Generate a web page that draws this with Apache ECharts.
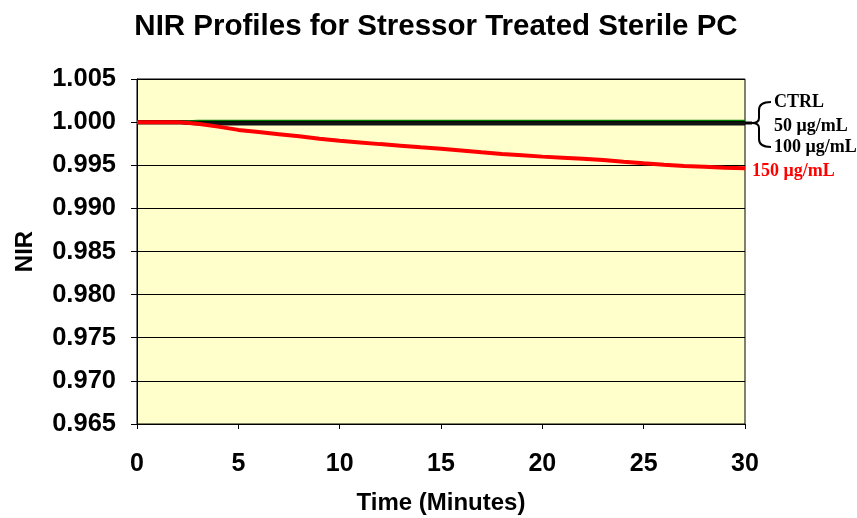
<!DOCTYPE html>
<html>
<head>
<meta charset="utf-8">
<script src="https://cdn.jsdelivr.net/npm/echarts@6/dist/echarts.min.js"></script>
<style>html,body{margin:0;padding:0;background:#fff;}#c{width:857px;height:518px;}</style>
</head>
<body>
<div id="c"></div>
<script>
var timeMin = [0,1,2,3,4,5,6,7,8,9,10,11,12,13,14,15,16,17,18,19,20,21,22,23,24,25,26,27,28,29,30];
var ctrl    = [1.0000,1.0000,1.0000,1.0001,1.0001,1.0001,1.0001,1.0001,1.0001,1.0001,1.0001,1.0001,1.0001,1.0001,1.0001,1.0001,1.0001,1.0001,1.0001,1.0001,1.0001,1.0001,1.0001,1.0001,1.0001,1.0001,1.0001,1.0001,1.0001,1.0001,1.0001];
var ug50    = [1.0000,1.0000,1.0000,0.9999,0.9999,0.9999,0.9999,0.9999,0.9999,0.9999,0.9999,0.9999,0.9999,0.9999,0.9999,0.9999,0.9999,0.9999,0.9999,0.9999,0.9999,0.9999,0.9999,0.9999,0.9999,0.9999,0.9999,0.9999,0.9999,0.9999,0.9999];
var ug100   = [1.0000,1.0000,1.0000,0.99985,0.99985,0.99985,0.99985,0.99985,0.99985,0.99985,0.99985,0.99985,0.99985,0.99985,0.99985,0.99985,0.99985,0.99985,0.99985,0.99985,0.99985,0.99985,0.99985,0.99985,0.99985,0.99985,0.99985,0.99985,0.99985,0.99985,0.99985];
var ug150   = [1.0000,1.0000,1.0000,0.99980,0.99948,0.99910,0.99885,0.99860,0.99835,0.99808,0.99785,0.99765,0.99745,0.99727,0.99708,0.99692,0.99672,0.99650,0.99630,0.99615,0.99600,0.99588,0.99575,0.99562,0.99540,0.99522,0.99505,0.99492,0.99482,0.99472,0.99465];
var xTicks = [0,5,10,15,20,25,30];
var yTicks = [0.965,0.970,0.975,0.980,0.985,0.990,0.995,1.000,1.005];
var seriesNames = ['CTRL','50 μg/mL','100 μg/mL','150 μg/mL'];

function pairs(v){ return timeMin.map(function(t,i){ return [t, v[i]]; }); }

var chart = echarts.init(document.getElementById('c'));
var sans = 'Liberation Sans';
var lblFont = 'bold 18px "Liberation Serif"';
var br = {stroke: '#000', lineWidth: 2, fill: null};
chart.setOption({
  animation: false,
  backgroundColor: '#ffffff',
  title: {
    text: 'NIR Profiles for Stressor Treated Sterile PC',
    left: 431, top: 7, textAlign: 'center',
    textStyle: {fontFamily: sans, fontWeight: 'bold', fontSize: 29.5, color: '#000'}
  },
  grid: {left: 137, right: 112, top: 79, bottom: 94, containLabel: false, outerBoundsMode: 'none',
    show: true, backgroundColor: '#FFFFCC', borderColor: '#000', borderWidth: 1},
  xAxis: {
    type: 'value', min: xTicks[0], max: xTicks[xTicks.length-1], interval: 5,
    name: 'Time (Minutes)', nameLocation: 'middle', nameGap: 67,
    nameTextStyle: {fontFamily: sans, fontWeight: 'bold', fontSize: 24, color: '#000'},
    axisLine: {lineStyle: {color: '#000', width: 1}},
    axisTick: {show: true, length: 5, lineStyle: {color: '#000'}},
    axisLabel: {margin: 28, fontFamily: sans, fontWeight: 'bold', fontSize: 25, color: '#000'},
    splitLine: {show: false}
  },
  yAxis: {
    type: 'value', min: yTicks[0], max: yTicks[yTicks.length-1], interval: 0.005,
    name: 'NIR', nameLocation: 'middle', nameGap: 100, nameRotate: 90,
    nameTextStyle: {fontFamily: sans, fontWeight: 'bold', fontSize: 24, color: '#000'},
    axisLine: {show: true, lineStyle: {color: '#000', width: 1}},
    axisTick: {show: true, length: 6, lineStyle: {color: '#000'}},
    axisLabel: {margin: 21, fontFamily: sans, fontWeight: 'bold', fontSize: 25.5, color: '#000',
      formatter: function(v){ return v.toFixed(3); }},
    splitLine: {show: true, lineStyle: {color: '#000', width: 1}}
  },
  series: [
    {name: seriesNames[0], type: 'line', data: pairs(ctrl), showSymbol: false, lineStyle: {color: '#008000', width: 3}, z: 2},
    {name: seriesNames[1], type: 'line', data: pairs(ug50), showSymbol: false, lineStyle: {color: '#000000', width: 4}, z: 3},
    {name: seriesNames[2], type: 'line', data: pairs(ug100), showSymbol: false, lineStyle: {color: '#111111', width: 4}, z: 3},
    {name: seriesNames[3], type: 'line', data: pairs(ug150), showSymbol: false, lineStyle: {color: '#FF0000', width: 4}, z: 4}
  ],
  graphic: [
    {type: 'line', shape: {x1: 745, y1: 123, x2: 752, y2: 123}, style: {stroke: '#000', lineWidth: 3}},
    {type: 'bezierCurve', shape: {x1: 771, y1: 102, cpx1: 759, cpy1: 102, x2: 759, y2: 110}, style: br},
    {type: 'line', shape: {x1: 759, y1: 110, x2: 759, y2: 118}, style: br},
    {type: 'bezierCurve', shape: {x1: 759, y1: 118, cpx1: 759, cpy1: 123, x2: 752, y2: 123}, style: br},
    {type: 'bezierCurve', shape: {x1: 752, y1: 123, cpx1: 759, cpy1: 123, x2: 759, y2: 128}, style: br},
    {type: 'line', shape: {x1: 759, y1: 128, x2: 759, y2: 139}, style: br},
    {type: 'bezierCurve', shape: {x1: 759, y1: 139, cpx1: 759, cpy1: 147, x2: 771, y2: 147}, style: br},
    {type: 'text', x: 774, y: 93, style: {text: seriesNames[0], font: lblFont, fill: '#000'}},
    {type: 'text', x: 774, y: 117, style: {text: seriesNames[1], font: lblFont, fill: '#000'}},
    {type: 'text', x: 774, y: 138, style: {text: seriesNames[2], font: lblFont, fill: '#000'}},
    {type: 'text', x: 752, y: 162, style: {text: seriesNames[3], font: lblFont, fill: '#FF0000'}}
  ]
});
</script>
</body>
</html>
